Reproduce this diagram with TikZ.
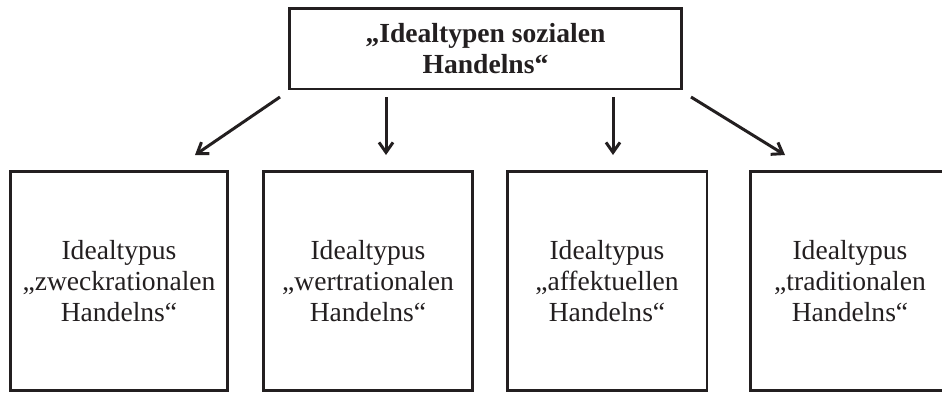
\documentclass[tikz,border=0pt]{standalone}
\usepackage{fontspec}
\setmainfont{Liberation Serif}
\usetikzlibrary{arrows.meta}
\definecolor{ink}{HTML}{231F20}

\tikzset{
	typbox/.style={draw=ink, line width=1.7pt, align=center, minimum height=4.4cm,
		font=\fontsize{15.7pt}{17.6pt}\selectfont, text=ink},
	headbox/.style={typbox, minimum width=7.86cm, minimum height=1.62cm, font=\fontsize{15.7pt}{17.6pt}\selectfont\bfseries}
}

\begin{document}
\begin{tikzpicture}[x=0.02cm,y=-0.02cm, >={Straight Barb[length=2mm,width=2.8mm]}]
	\useasboundingbox (0,0) rectangle (942,392);

	\node[headbox] (ideal) at (485.5,48.5) {„Idealtypen sozialen\\Handelns“};

	\foreach \cx/\boxw/\art [count=\i] in {119/4.36/zweckrationalen, 368/4.2/wertrationalen, 607/4.0/affektuellen, 850/4.0/traditionalen}
	{
		\node[typbox, minimum width=\boxw cm] (typ\i) at (\cx,281) {Idealtypus\\„\art\\Handelns“};
	}

	\foreach \sx/\ex [count=\i] in {280/195, 386/386, 613/613, 691/785}
	{
		\coordinate (s\i) at (\sx,97);
		\coordinate (e\i) at (\ex,155);
		\draw[->, ink, line width=1.7pt] (s\i) -- (e\i);
	}
\end{tikzpicture}
\end{document}
